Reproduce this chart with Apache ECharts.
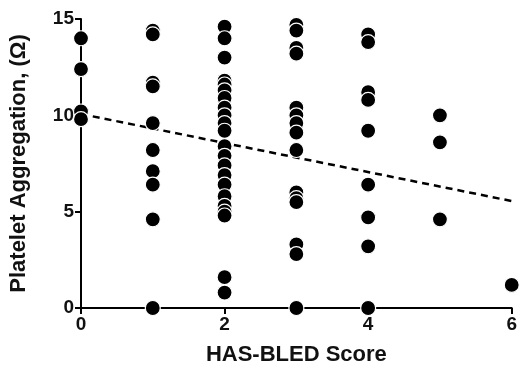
<!DOCTYPE html>
<html>
<head>
<meta charset="utf-8">
<script src="https://cdn.jsdelivr.net/npm/echarts@6/dist/echarts.min.js"></script>
<style>
  html, body { margin: 0; padding: 0; background: #fff; }
  #chart { width: 520px; height: 371px; }
</style>
</head>
<body>
<div id="chart"></div>
<script>
// platelet aggregation values per HAS-BLED score
var score0 = [14.0, 12.4, 10.2, 9.8];
var score1 = [14.4, 14.2, 11.7, 11.5, 9.6, 8.2, 7.1, 6.4, 4.6, 0];
var score2 = [14.6, 14.0, 13.0, 11.8, 11.6, 11.3, 10.9, 10.4, 10.0, 9.6, 9.2, 8.4, 7.9, 7.4, 6.9, 6.4, 5.8, 5.3, 5.0, 4.8, 1.6, 0.8];
var score3 = [14.7, 14.4, 13.5, 13.2, 10.4, 10.0, 9.6, 9.1, 8.2, 6.0, 5.7, 5.5, 3.3, 2.8, 0];
var score4 = [14.2, 13.8, 11.2, 10.8, 9.2, 6.4, 4.7, 3.2, 0];
var score5 = [10.0, 8.6, 4.6];
var score6 = [1.2];

var fitX = [0, 6];
var fitY = [10.07, 5.55];

var yTicks = [0, 5, 10, 15];
var xTicks = [0, 2, 4, 6];

var groups = [score0, score1, score2, score3, score4, score5, score6];
var points = [];
for (var s = 0; s < groups.length; s++) {
    for (var i = 0; i < groups[s].length; i++) {
        points.push([s, groups[s][i]]);
    }
}
var fitLine = [];
for (var k = 0; k < fitX.length; k++) {
    fitLine.push([fitX[k], fitY[k]]);
}

var myChart = echarts.init(document.getElementById('chart'));

var font = 'Liberation Sans, Arial, sans-serif';

var option = {
    animation: false,
    grid: {
        left: 79,
        right: 8,
        top: 19,
        bottom: 62
    },
    xAxis: {
        type: 'value',
        min: xTicks[0],
        max: xTicks[xTicks.length - 1],
        interval: 2,
        name: 'HAS-BLED Score',
        nameLocation: 'middle',
        nameGap: 36,
        nameTextStyle: { color: '#111', fontSize: 22, fontWeight: 'bold', fontFamily: font },
        axisLine: { lineStyle: { color: '#000', width: 2 } },
        axisTick: { show: true, length: 6, lineStyle: { color: '#000', width: 2 } },
        axisLabel: { color: '#111', fontSize: 19, fontWeight: 'bold', fontFamily: font, margin: 7 },
        splitLine: { show: false }
    },
    yAxis: {
        type: 'value',
        min: yTicks[0],
        max: yTicks[yTicks.length - 1],
        interval: 5,
        name: 'Platelet Aggregation, (Ω)',
        nameLocation: 'middle',
        nameGap: 51,
        nameTextStyle: { color: '#111', fontSize: 22, fontWeight: 'bold', fontFamily: font },
        axisLine: { show: true, lineStyle: { color: '#000', width: 2 } },
        axisTick: { show: true, length: 6, lineStyle: { color: '#000', width: 2 } },
        axisLabel: { color: '#111', fontSize: 19, fontWeight: 'bold', fontFamily: font, margin: 7 },
        splitLine: { show: false }
    },
    series: [
        {
            type: 'line',
            data: fitLine,
            symbol: 'none',
            z: 1,
            lineStyle: { color: '#000', width: 2.5, type: [7, 5] }
        },
        {
            type: 'scatter',
            data: points,
            symbol: 'circle',
            symbolSize: 15,
            z: 3,
            itemStyle: { color: '#000', borderColor: '#fff', borderWidth: 1.2, opacity: 1 }
        }
    ]
};

myChart.setOption(option);
</script>
</body>
</html>
